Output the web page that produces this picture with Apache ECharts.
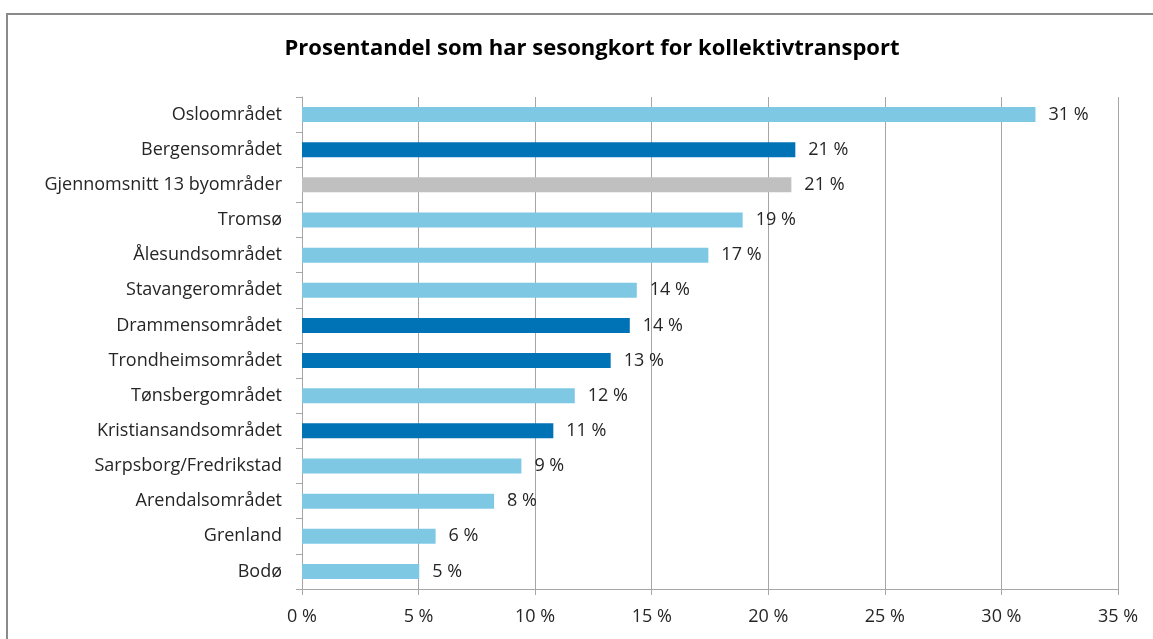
<!DOCTYPE html>
<html>
<head>
<meta charset="utf-8">
<script src="https://cdn.jsdelivr.net/npm/echarts@6/dist/echarts.min.js"></script>
<style>
  html, body { margin: 0; padding: 0; background: #fff; }
  #chart { width: 1153px; height: 639px; }
</style>
</head>
<body>
<div id="chart"></div>
<script>
const titleText = "Prosentandel som har sesongkort for kollektivtransport";

const categories = [
  "Osloområdet", "Bergensområdet", "Gjennomsnitt 13 byområder", "Tromsø",
  "Ålesundsområdet", "Stavangerområdet", "Drammensområdet", "Trondheimsområdet",
  "Tønsbergområdet", "Kristiansandsområdet", "Sarpsborg/Fredrikstad",
  "Arendalsområdet", "Grenland", "Bodø"
];
const values = [31.46, 21.16, 20.99, 18.9, 17.43, 14.36, 14.06, 13.24, 11.7, 10.78, 9.41, 8.24, 5.73, 5.03];
// 0 = light blue, 1 = dark blue, 2 = grey (average)
const colorGroup = [0, 1, 2, 0, 0, 0, 1, 1, 0, 1, 0, 0, 0, 0];
const xTicks = [0, 5, 10, 15, 20, 25, 30, 35];

const palette = ["#7EC8E4", "#0072B6", "#C0C0C0"];
const font = "'Open Sans', Lato, sans-serif";

const chart = echarts.init(document.getElementById("chart"));

chart.setOption({
  animation: false,
  title: {
    text: titleText,
    left: 587,
    top: 33,
    textAlign: "center",
    textStyle: { fontFamily: font, fontSize: 22, fontWeight: "bold", color: "#000" }
  },
  graphic: [{
    type: "rect",
    shape: { x: 7, y: 14, width: 1170, height: 650 },
    style: { fill: "none", stroke: "#8a8a8a", lineWidth: 2 },
    silent: true
  }],
  grid: { left: 302, right: 35, top: 97, bottom: 50 },
  xAxis: {
    type: "value",
    min: xTicks[0],
    max: xTicks[xTicks.length - 1],
    interval: 5,
    axisLine: { show: true, lineStyle: { color: "#a6a6a6", width: 1 } },
    axisTick: { show: true, length: 6, lineStyle: { color: "#a6a6a6" } },
    splitLine: { show: true, lineStyle: { color: "#a6a6a6", width: 1 } },
    axisLabel: {
      margin: 19,
      fontFamily: font,
      fontSize: 18,
      color: "#262626",
      formatter: v => v + " %"
    }
  },
  yAxis: {
    type: "category",
    inverse: true,
    data: categories,
    axisLine: { show: true, lineStyle: { color: "#a6a6a6", width: 1 } },
    axisTick: { show: true, length: 6, lineStyle: { color: "#a6a6a6" } },
    axisLabel: {
      margin: 20,
      fontFamily: font,
      fontSize: 18,
      color: "#262626"
    }
  },
  series: [{
    type: "bar",
    barWidth: 15,
    data: values.map((v, i) => ({
      value: v,
      itemStyle: { color: palette[colorGroup[i]] }
    })),
    label: {
      show: true,
      position: "right",
      distance: 13,
      fontFamily: font,
      fontSize: 18,
      color: "#262626",
      formatter: p => Math.round(p.value) + " %"
    }
  }]
});
</script>
</body>
</html>
